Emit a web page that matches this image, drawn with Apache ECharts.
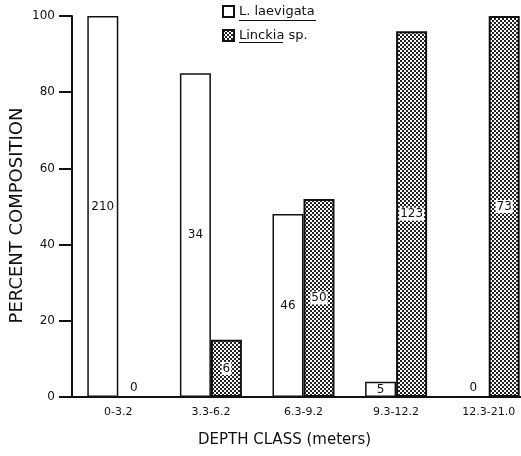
<!DOCTYPE html>
<html>
<head>
<meta charset="utf-8">
<script src="https://cdn.jsdelivr.net/npm/echarts@6/dist/echarts.min.js"></script>
<style>html,body{margin:0;padding:0;background:#fff}#c{width:521px;height:456px}</style>
</head>
<body>
<div id="c"></div>
<script>
var categories = ['0-3.2', '3.3-6.2', '6.3-9.2', '9.3-12.2', '12.3-21.0'];
var laevigataPct = [100, 85, 48, 4, 0];
var linckiaPct = [0, 15, 52, 96, 100];
var laevigataCounts = [210, 34, 46, 5, 0];
var linckiaCounts = [0, 6, 50, 123, 73];
var yTicks = [0, 20, 40, 60, 80, 100];

var pc = document.createElement('canvas');
pc.width = 4; pc.height = 4;
var g = pc.getContext('2d');
g.fillStyle = '#ffffff'; g.fillRect(0, 0, 4, 4);
g.fillStyle = '#222222';
g.fillRect(0, 0, 2, 2); g.fillRect(2, 2, 2, 2);
var pattern = { image: pc, repeat: 'repeat' };

var font = 'DejaVu Sans, sans-serif';

function mkData(vals, counts, bg) {
  return vals.map(function (v, i) {
    var lab = {
      show: true,
      formatter: String(counts[i]),
      position: v === 0 ? 'top' : 'inside',
      distance: 2,
      color: '#111',
      fontSize: 12,
      fontFamily: font
    };
    if (bg && v !== 0) { lab.backgroundColor = '#fff'; lab.padding = [1, 1, 0, 1]; }
    return { value: v, label: lab };
  });
}

var chart = echarts.init(document.getElementById('c'), null, { renderer: 'canvas' });
chart.setOption({
  animation: false,
  backgroundColor: '#fff',
  textStyle: { fontFamily: font },
  grid: { left: 72, right: -14, top: 16, bottom: 59, containLabel: false, outerBoundsMode: 'none' },
  legend: {
    orient: 'vertical', left: 217, top: 0,
    itemWidth: 11, itemHeight: 11, itemGap: 11,
    icon: 'rect',
    textStyle: { fontSize: 13, color: '#111', fontFamily: font },
    data: ['L. laevigata', 'Linckia sp.']
  },
  xAxis: {
    type: 'category', data: categories,
    axisLine: { lineStyle: { color: '#111', width: 2 } },
    axisTick: { show: false },
    axisLabel: { color: '#111', fontSize: 11, margin: 10, fontFamily: font },
    name: 'DEPTH CLASS (meters)', nameLocation: 'middle', nameGap: 36,
    nameTextStyle: { fontSize: 15, color: '#111', fontFamily: font, padding: [0, 38, 0, 0] }
  },
  yAxis: {
    type: 'value', min: 0, max: 100, interval: 20,
    axisLine: { show: true, lineStyle: { color: '#111', width: 2 } },
    axisTick: { show: true, length: 13, lineStyle: { color: '#111', width: 2 } },
    splitLine: { show: false },
    axisLabel: { color: '#111', fontSize: 12, margin: 17, fontFamily: font },
    name: 'PERCENT COMPOSITION', nameLocation: 'middle', nameGap: 46, nameMoveOverlap: false,
    nameTextStyle: { fontSize: 18, color: '#111', fontFamily: font, padding: [0, 18, 0, 0] }
  },
  series: [
    {
      name: 'L. laevigata', type: 'bar', barWidth: 31, barGap: '0%',
      itemStyle: { color: '#fff', borderColor: '#111', borderWidth: 1.5 },
      data: mkData(laevigataPct, laevigataCounts, false)
    },
    {
      name: 'Linckia sp.', type: 'bar', barWidth: 31, barGap: '0%',
      itemStyle: { color: pattern, borderColor: '#111', borderWidth: 2 },
      data: mkData(linckiaPct, linckiaCounts, true)
    }
  ],
  graphic: [
    { type: 'line', shape: { x1: 239, y1: 20.5, x2: 316, y2: 20.5 }, style: { stroke: '#111', lineWidth: 1 } },
    { type: 'line', shape: { x1: 239, y1: 42.5, x2: 283, y2: 42.5 }, style: { stroke: '#111', lineWidth: 1 } }
  ]
});
</script>
</body>
</html>
